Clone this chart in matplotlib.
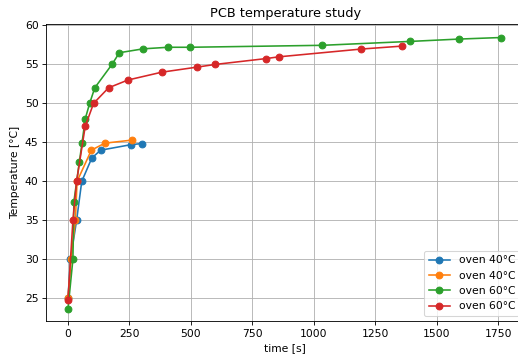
import numpy as np
import matplotlib
matplotlib.use('Agg')
import matplotlib.pyplot as plt

# oven 40C, run 1
t_40a = [0, 10, 35, 56, 97, 133, 255, 300]
T_40a = [25.0, 30.0, 35.0, 40.0, 43.0, 44.0, 44.7, 44.85]
# oven 40C, run 2
t_40b = [0, 13, 30, 37, 95, 150, 262]
T_40b = [25.1, 30.1, 35.0, 40.0, 44.0, 44.9, 45.3]
# oven 60C, run 1
t_60a = [0, 20, 24, 46, 57, 70, 88, 109, 179, 209, 306, 408, 497, 1034, 1393, 1590, 1762]
T_60a = [23.65, 30.0, 37.4, 42.45, 44.9, 48.0, 50.0, 52.0, 55.0, 56.5, 57.0, 57.2, 57.2,
         57.45, 57.95, 58.25, 58.45]
# oven 60C, run 2
t_60b = [0, 20, 35, 70, 104, 165, 244, 381, 524, 600, 806, 857, 1193, 1360]
T_60b = [24.75, 35.0, 40.0, 47.05, 50.0, 52.0, 53.0, 54.0, 54.65, 55.0, 55.75, 55.97, 56.97, 57.35]

dpi = 77
fig = plt.figure(figsize=(518 / dpi, 354 / dpi), dpi=dpi)
# axes run past the right edge, like the original (cropped) figure
ax = fig.add_axes([0.0888, 0.093, 0.924, 0.84])

ax.plot(t_40a, T_40a, 'o-', label='oven 40°C', markersize=6.3)
ax.plot(t_40b, T_40b, 'o-', label='oven 40°C', markersize=6.3)
ax.plot(t_60a, T_60a, 'o-', label='oven 60°C', markersize=6.3)
ax.plot(t_60b, T_60b, 'o-', label='oven 60°C', markersize=6.3)

ax.set_xlim(-89.5, 1858)
ax.set_ylim(22.08, 60.22)
ax.set_xticks([0, 250, 500, 750, 1000, 1250, 1500, 1750])
ax.grid()
ax.set_title('PCB temperature study')
ax.set_xlabel('time [s]')
ax.set_ylabel('Temperature [°C]')
ax.legend(loc='lower right')

fig.savefig('out.png', dpi=dpi)
